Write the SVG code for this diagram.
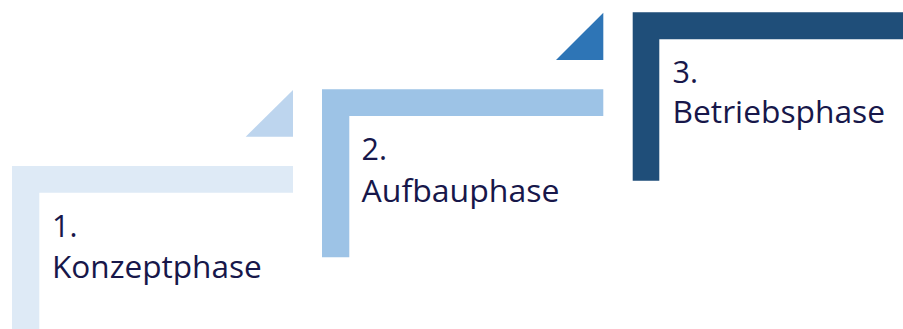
<svg xmlns="http://www.w3.org/2000/svg" width="903" height="329" viewBox="0 0 903 329">
<style>
text{font-family:"Open Sans","Liberation Sans",sans-serif;font-size:30.5px;fill:#17174a}
</style>
<rect width="903" height="329" fill="#ffffff"/>
<g id="phase1">
<polygon points="245.7,136.7 293,90 293,136.7" fill="#bdd5ee"/>
<polygon points="12,166 293,166 293,192.7 39.3,192.7 39.3,329 12,329" fill="#deeaf6"/>
<text x="52" y="236.5">1.</text>
<text x="52" y="277.5" textLength="209.7" lengthAdjust="spacingAndGlyphs">Konzeptphase</text>
</g>
<g id="phase2">
<polygon points="556,60 603.3,12.7 603.3,60" fill="#2e75b6"/>
<polygon points="322,89.3 603.3,89.3 603.3,116 349.3,116 349.3,257.3 322,257.3" fill="#9dc3e6"/>
<text x="361.5" y="160.3">2.</text>
<text x="361.5" y="201.8" textLength="198" lengthAdjust="spacingAndGlyphs">Aufbauphase</text>
</g>
<g id="phase3">
<polygon points="632.7,12.3 903,12.3 903,39.3 659.3,39.3 659.3,180.7 632.7,180.7" fill="#1f4e79"/>
<text x="672.5" y="83">3.</text>
<text x="672.5" y="123.3" textLength="212.5" lengthAdjust="spacingAndGlyphs">Betriebsphase</text>
</g>
<g id="connectors"/>
</svg>
